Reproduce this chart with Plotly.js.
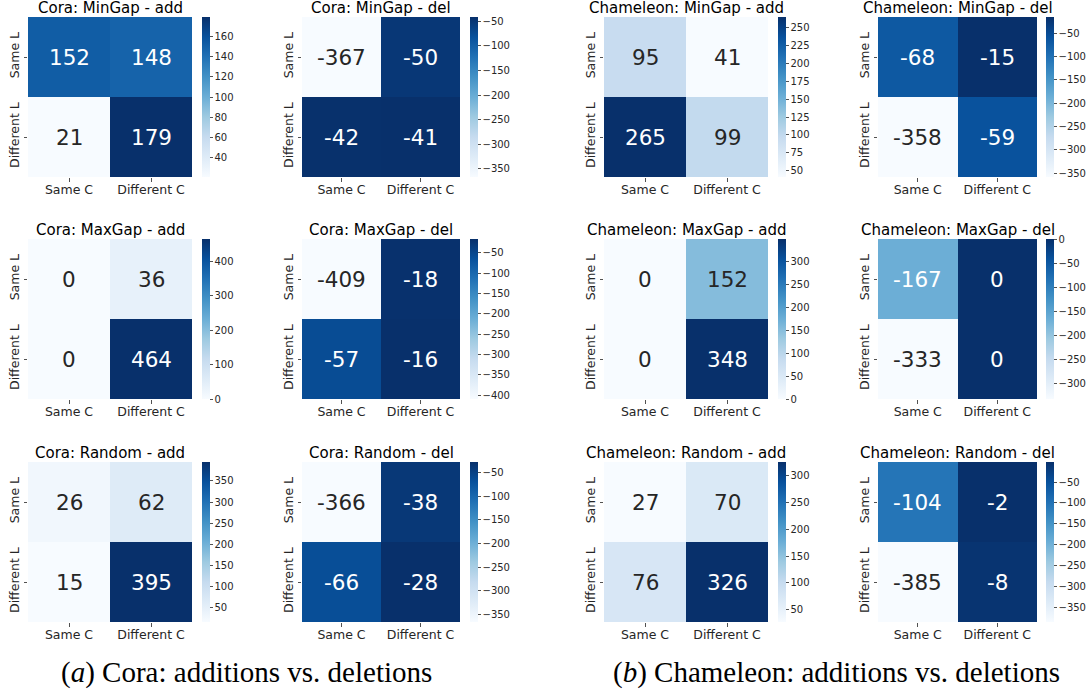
<!DOCTYPE html>
<html>
<head>
<meta charset="utf-8">
<script src="https://cdn.plot.ly/plotly-3.0.1.min.js"></script>
<style>html,body{margin:0;padding:0;background:#fff;}#chart{width:1086px;height:696px;}</style>
</head>
<body>
<div id="chart"></div>
<script>
// ---------- DATA ----------
const xLabels = ["Same C", "Different C"];
const yLabels = ["Same L", "Different L"];

const panelTitles = [
  "Cora: MinGap - add", "Cora: MinGap - del", "Chameleon: MinGap - add", "Chameleon: MinGap - del",
  "Cora: MaxGap - add", "Cora: MaxGap - del", "Chameleon: MaxGap - add", "Chameleon: MaxGap - del",
  "Cora: Random - add", "Cora: Random - del", "Chameleon: Random - add", "Chameleon: Random - del"
];

const coraMinGapAdd = [[152, 148], [21, 179]];
const coraMinGapDel = [[-367, -50], [-42, -41]];
const chamMinGapAdd = [[95, 41], [265, 99]];
const chamMinGapDel = [[-68, -15], [-358, -59]];
const coraMaxGapAdd = [[0, 36], [0, 464]];
const coraMaxGapDel = [[-409, -18], [-57, -16]];
const chamMaxGapAdd = [[0, 152], [0, 348]];
const chamMaxGapDel = [[-167, 0], [-333, 0]];
const coraRandomAdd = [[26, 62], [15, 395]];
const coraRandomDel = [[-366, -38], [-66, -28]];
const chamRandomAdd = [[27, 70], [76, 326]];
const chamRandomDel = [[-104, -2], [-385, -8]];

const panelData = [
  coraMinGapAdd, coraMinGapDel, chamMinGapAdd, chamMinGapDel,
  coraMaxGapAdd, coraMaxGapDel, chamMaxGapAdd, chamMaxGapDel,
  coraRandomAdd, coraRandomDel, chamRandomAdd, chamRandomDel
];

const colorbarTicks = [
  [40, 60, 80, 100, 120, 140, 160],
  [-350, -300, -250, -200, -150, -100, -50],
  [50, 75, 100, 125, 150, 175, 200, 225, 250],
  [-350, -300, -250, -200, -150, -100, -50],
  [0, 100, 200, 300, 400],
  [-400, -350, -300, -250, -200, -150, -100, -50],
  [0, 50, 100, 150, 200, 250, 300],
  [-300, -250, -200, -150, -100, -50, 0],
  [50, 100, 150, 200, 250, 300, 350],
  [-350, -300, -250, -200, -150, -100, -50],
  [50, 100, 150, 200, 250, 300],
  [-350, -300, -250, -200, -150, -100, -50]
];

const captions = ["(<i>a</i>) Cora: additions vs. deletions", "(<i>b</i>) Chameleon: additions vs. deletions"];

// ---------- STYLE / LAYOUT ----------
const W = 1086, H = 696;
const blues = [
  [0, "#f7fbff"], [0.125, "#deebf7"], [0.25, "#c6dbef"], [0.375, "#9ecae1"],
  [0.5, "#6baed6"], [0.625, "#4292c6"], [0.75, "#2171b5"], [0.875, "#08519c"], [1, "#08306b"]
];
const colX = [[28, 192], [302, 460], [604, 768], [878, 1037]];
const cbX = [202, 470, 778, 1046];
const rowY = [[17, 177], [239, 399], [462, 622]];
const FONT = "DejaVu Sans, Arial, sans-serif";
const DARK = "#262626";

function hexToRgb(h) { return [parseInt(h.substr(1,2),16), parseInt(h.substr(3,2),16), parseInt(h.substr(5,2),16)]; }
function colorAt(t) {
  for (let i = 0; i < blues.length - 1; i++) {
    const [t0, c0] = blues[i], [t1, c1] = blues[i+1];
    if (t <= t1) {
      const f = (t - t0) / (t1 - t0 || 1);
      const a = hexToRgb(c0), b = hexToRgb(c1);
      return a.map((v, k) => v + (b[k] - v) * f);
    }
  }
  return hexToRgb(blues[blues.length-1][1]);
}
function luminance(rgb) {
  const lin = rgb.map(v => { v /= 255; return v <= 0.03928 ? v / 12.92 : Math.pow((v + 0.055) / 1.055, 2.4); });
  return 0.2126 * lin[0] + 0.7152 * lin[1] + 0.0722 * lin[2];
}

const traces = [];
const annotations = [];
const layout = {
  width: W, height: H,
  margin: {l: 0, r: 0, t: 0, b: 0},
  paper_bgcolor: "#fff", plot_bgcolor: "#fff",
  font: {family: FONT, color: DARK},
  showlegend: false,
  annotations: annotations
};

panelData.forEach((z, i) => {
  const r = Math.floor(i / 4), c = i % 4;
  const n = i + 1;
  const xa = n === 1 ? "x" : "x" + n, ya = n === 1 ? "y" : "y" + n;
  const flat = z.flat();
  const zmin = Math.min(...flat), zmax = Math.max(...flat);
  traces.push({
    type: "heatmap",
    x: xLabels, y: yLabels, z: z,
    xaxis: xa, yaxis: ya,
    zmin: zmin, zmax: zmax,
    colorscale: blues,
    hoverinfo: "skip",
    colorbar: {
      x: cbX[c] / W, xanchor: "left", xref: "paper",
      y: 1 - (rowY[r][0] + rowY[r][1]) / 2 / H, yanchor: "middle", yref: "paper",
      len: (rowY[r][1] - rowY[r][0]) / H, lenmode: "fraction",
      thickness: 8, thicknessmode: "pixels",
      xpad: 0, ypad: 0, outlinewidth: 0,
      ticks: "outside", ticklen: 3, tickwidth: 0.8, tickcolor: DARK,
      tickvals: colorbarTicks[i],
      tickfont: {family: FONT, size: 10, color: DARK}
    }
  });
  layout["xaxis" + (n === 1 ? "" : n)] = {
    domain: [colX[c][0] / W, colX[c][1] / W],
    anchor: ya,
    type: "category",
    showgrid: false, zeroline: false, showline: false,
    ticks: "outside", ticklen: 3.5, tickwidth: 0.8, tickcolor: DARK,
    ticklabelstandoff: -3,
    tickfont: {family: FONT, size: 12.5, color: DARK},
    fixedrange: true
  };
  layout["yaxis" + (n === 1 ? "" : n)] = {
    domain: [1 - rowY[r][1] / H, 1 - rowY[r][0] / H],
    anchor: xa,
    type: "category",
    autorange: "reversed",
    showgrid: false, zeroline: false, showline: false,
    ticks: "outside", ticklen: 3.5, tickwidth: 0.8, tickcolor: DARK,
    tickangle: -90,
    tickfont: {family: FONT, size: 12.5, color: DARK},
    fixedrange: true
  };
  // cell values
  z.forEach((row, yi) => row.forEach((v, xi) => {
    const t = (v - zmin) / (zmax - zmin);
    const lum = luminance(colorAt(t));
    annotations.push({
      xref: xa, yref: ya, x: xLabels[xi], y: yLabels[yi],
      xanchor: "center", yanchor: "middle",
      text: String(v), showarrow: false,
      font: {family: FONT, size: 21.5, color: lum < 0.408 ? "#ffffff" : DARK}
    });
  }));
  // panel title
  annotations.push({
    xref: "paper", yref: "paper",
    x: (colX[c][0] + colX[c][1]) / 2 / W, xanchor: "center",
    y: 1 - (rowY[r][0] - 9) / H, yanchor: "middle",
    text: panelTitles[i], showarrow: false,
    font: {family: FONT, size: 15, color: "#000"}
  });
});

captions.forEach((t, k) => {
  annotations.push({
    xref: "paper", yref: "paper",
    x: (k === 0 ? 246 : 836) / W, xanchor: "center",
    y: 1 - 672 / H, yanchor: "middle",
    text: t, showarrow: false,
    font: {family: "Liberation Serif, DejaVu Serif, serif", size: 29, color: "#000"}
  });
});

Plotly.newPlot("chart", traces, layout, {staticPlot: true, displayModeBar: false});
</script>
</body>
</html>
